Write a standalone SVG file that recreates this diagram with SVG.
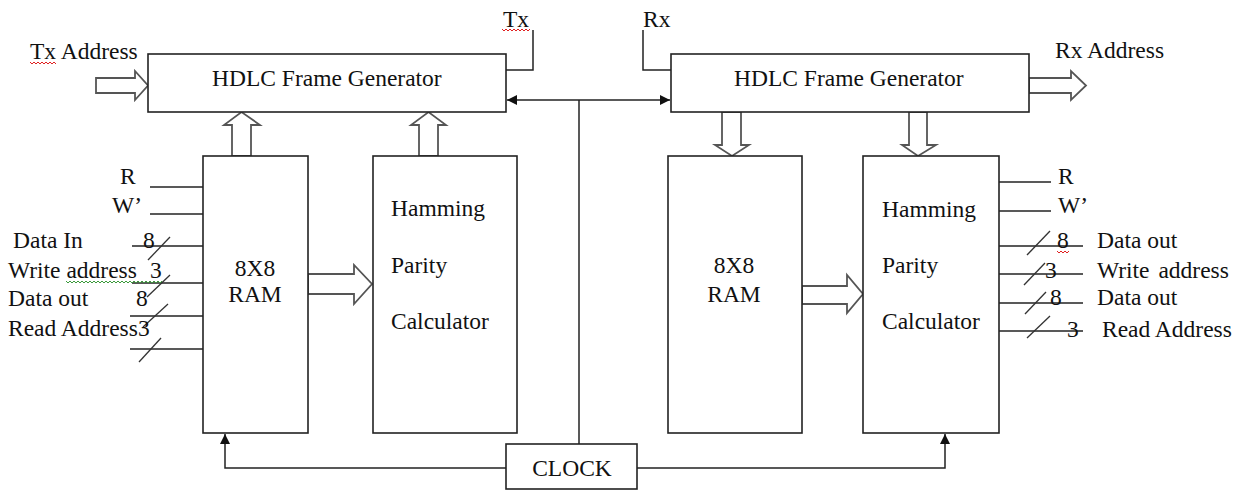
<svg xmlns="http://www.w3.org/2000/svg" width="1242" height="490" viewBox="0 0 1242 490">
<style>
.box{fill:#fff;stroke:#222;stroke-width:1.6}
.ln{fill:none;stroke:#222;stroke-width:1.5}
.sl{fill:none;stroke:#333;stroke-width:1.3}
.ba{fill:#fff;stroke:#555;stroke-width:1.8;stroke-linejoin:miter}
.t{font-family:"Liberation Serif","Times New Roman",serif;font-size:23.5px;fill:#111}
.m{text-anchor:middle}
.sq{fill:none;stroke-width:1}
</style>
<defs>
<marker id="ah" viewBox="0 0 10 10" refX="10" refY="5" markerWidth="10" markerHeight="10" markerUnits="userSpaceOnUse" orient="auto-start-reverse">
<path d="M0,0 L10,5 L0,10 z" fill="#111"/>
</marker>
</defs>
<rect width="1242" height="490" fill="#fff"/>
<g id="connectors">
<polyline class="ln" points="506,70 533,70 533,30"/>
<polyline class="ln" points="643,30 643,70 671,70"/>
<line class="ln" x1="507" y1="100" x2="670" y2="100" marker-start="url(#ah)" marker-end="url(#ah)"/>
<line class="ln" x1="579" y1="100" x2="579" y2="444"/>
<polyline class="ln" points="506,468 225,468 225,434" marker-end="url(#ah)"/>
<polyline class="ln" points="637,468 945,468 945,434" marker-end="url(#ah)"/>
<polygon class="ba" points="96,78 135,78 135,71 148,85.5 135,100 135,93 96,93"/>
<polygon class="ba" points="232,156 232,125 224,125 241.5,112 260,125 251,125 251,156"/>
<polygon class="ba" points="419,156 419,125 411,125 428.5,112 446,125 438,125 438,156"/>
<polygon class="ba" points="308,274 354,274 354,265 372,284 354,304 354,294 308,294"/>
<polygon class="ba" points="722,112 741,112 741,145 749,145 732,156 715,145 722,145"/>
<polygon class="ba" points="909,112 927,112 927,145 936,145 918,156 902,145 909,145"/>
<polygon class="ba" points="802,286 847,286 847,275 863,294 847,313 847,304 802,304"/>
<polygon class="ba" points="1029,78 1071,78 1071,71 1086,85.5 1071,100 1071,93 1029,93"/>
<!-- left RAM pins -->
<line class="ln" x1="150" y1="187" x2="203" y2="187"/>
<line class="ln" x1="150" y1="214" x2="203" y2="214"/>
<line class="ln" x1="132" y1="246" x2="203" y2="246"/>
<line class="sl" x1="148" y1="260" x2="170" y2="237"/>
<line class="ln" x1="132" y1="283" x2="203" y2="283"/>
<line class="sl" x1="147" y1="297" x2="170" y2="275"/>
<line class="ln" x1="130" y1="316" x2="203" y2="316"/>
<line class="sl" x1="143" y1="327" x2="168" y2="304"/>
<line class="ln" x1="130" y1="349" x2="203" y2="349"/>
<line class="sl" x1="139" y1="362" x2="161" y2="338"/>
<!-- right Hamming pins -->
<line class="ln" x1="999" y1="182" x2="1051" y2="182"/>
<line class="ln" x1="999" y1="211" x2="1051" y2="211"/>
<line class="ln" x1="999" y1="246" x2="1083" y2="246"/>
<line class="sl" x1="1027" y1="255" x2="1050" y2="231"/>
<line class="ln" x1="999" y1="274" x2="1083" y2="274"/>
<line class="sl" x1="1024" y1="285" x2="1045" y2="263"/>
<line class="ln" x1="999" y1="303" x2="1083" y2="303"/>
<line class="sl" x1="1025" y1="314" x2="1046" y2="292"/>
<line class="ln" x1="999" y1="331" x2="1083" y2="331"/>
<line class="sl" x1="1027" y1="338" x2="1050" y2="316"/>
</g>
<g id="hdlc-tx">
<rect class="box" x="148" y="54" width="358" height="58"/>
<text class="t" x="212" y="86">HDLC Frame Generator</text>
</g>
<g id="hdlc-rx">
<rect class="box" x="671" y="54" width="358" height="58"/>
<text class="t" x="734" y="86">HDLC Frame Generator</text>
</g>
<g id="ram-tx">
<rect class="box" x="203" y="156" width="105" height="277"/>
<text class="t m" x="255" y="276">8X8</text>
<text class="t m" x="255" y="302">RAM</text>
</g>
<g id="hamming-tx">
<rect class="box" x="373" y="156" width="144" height="277"/>
<text class="t" x="391" y="216">Hamming</text>
<text class="t" x="391" y="273">Parity</text>
<text class="t" x="391" y="329">Calculator</text>
</g>
<g id="ram-rx">
<rect class="box" x="668" y="156" width="134" height="277"/>
<text class="t m" x="734" y="273">8X8</text>
<text class="t m" x="734" y="302">RAM</text>
</g>
<g id="hamming-rx">
<rect class="box" x="863" y="156" width="136" height="277"/>
<text class="t" x="882" y="217">Hamming</text>
<text class="t" x="882" y="273">Parity</text>
<text class="t" x="882" y="329">Calculator</text>
</g>
<g id="clock">
<rect class="box" x="506" y="444" width="131" height="45"/>
<text class="t m" x="572" y="476">CLOCK</text>
</g>
<g id="labels">
<text class="t" x="30" y="59">Tx Address</text>
<text class="t" x="503" y="27">Tx</text>
<text class="t" x="643" y="27">Rx</text>
<text class="t" x="1055" y="58">Rx Address</text>
<text class="t" x="120" y="184">R</text>
<text class="t" x="112" y="213">W’</text>
<text class="t" x="13" y="248">Data In</text>
<text class="t" x="143" y="248">8</text>
<text class="t" x="8" y="278">Write address</text>
<text class="t" x="150" y="278">3</text>
<text class="t" x="8" y="306">Data out</text>
<text class="t" x="136" y="306">8</text>
<text class="t" x="8" y="336">Read Address3</text>
<text class="t" x="1058" y="184">R</text>
<text class="t" x="1058" y="213">W’</text>
<text class="t" x="1057" y="248">8</text>
<text class="t" x="1097" y="248">Data out</text>
<text class="t" x="1045" y="278">3</text>
<text class="t" x="1097" y="278" word-spacing="3">Write address</text>
<text class="t" x="1050" y="305">8</text>
<text class="t" x="1097" y="305">Data out</text>
<text class="t" x="1067" y="337">3</text>
<text class="t" x="1102" y="337">Read Address</text>
</g>
<g id="spellcheck">
<polyline class="sq" stroke="#e02020" points="30,62 32,64 34,62 36,64 38,62 40,64 42,62 44,64 46,62 48,64 50,62 52,64 54,62 56,64"/>
<polyline class="sq" stroke="#e02020" points="502,29 504,31 506,29 508,31 510,29 512,31 514,29 516,31 518,29 520,31 522,29 524,31 526,29 528,31 530,29"/>
<polyline class="sq" stroke="#e02020" points="1057,251 1059,253 1061,251 1063,253 1065,251 1067,253 1069,251"/>
<polyline class="sq" stroke="#3a9a3a" points="66,281 68,283 70,281 72,283 74,281 76,283 78,281 80,283 82,281 84,283 86,281 88,283 90,281 92,283 94,281 96,283 98,281 100,283 102,281 104,283 106,281 108,283 110,281 112,283 114,281 116,283 118,281 120,283 122,281 124,283 126,281 128,283 130,281 132,283 134,281 136,283 138,281 140,283 142,281 144,283 146,281 148,283 150,281 152,283 154,281 156,283 158,281 160,283 162,281"/>
</g>
</svg>
